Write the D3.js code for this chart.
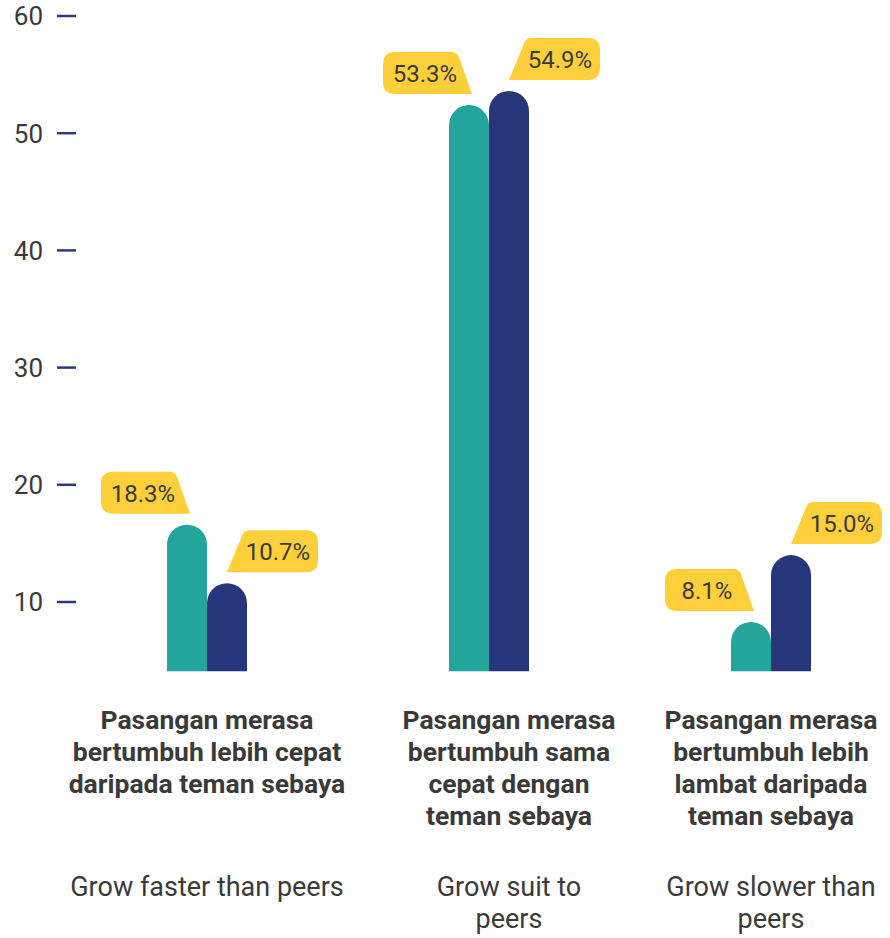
<!DOCTYPE html>
<html>
    <head>
        <script src="https://d3js.org/d3.v7.min.js"></script>
        <style>
            body { margin: 0; background: #fff; }
            text { font-family: Roboto, "Open Sans", sans-serif; fill: #3a3a3a; }
            .tick-label { font-size: 26px; text-anchor: end; }
            .pct { font-size: 24px; text-anchor: middle; }
            .cat { font-size: 26.5px; font-weight: 700; text-anchor: middle; }
            .eng { font-size: 27px; text-anchor: middle; }
        </style>
    </head>
    <body>
        <svg width="890" height="938"></svg>
        <script>
            // data
            var categories = ["faster", "same", "slower"];
            var series = ["a", "b"];
            var barValuesA = [16.6, 52.4, 8.3];   // bar tops as drawn (axis units)
            var barValuesB = [11.6, 53.6, 14.0];
            var labelsA = ["18.3%", "53.3%", "8.1%"];
            var labelsB = ["10.7%", "54.9%", "15.0%"];
            var baseValue = 4.1;                   // bars start here
            var tickValues = [10, 20, 30, 40, 50, 60];
            var catLabels = [
                ["Pasangan merasa", "bertumbuh lebih cepat", "daripada teman sebaya"],
                ["Pasangan merasa", "bertumbuh sama", "cepat dengan", "teman sebaya"],
                ["Pasangan merasa", "bertumbuh lebih", "lambat daripada", "teman sebaya"]
            ];
            var engLabels = [
                ["Grow faster than peers"],
                ["Grow suit to", "peers"],
                ["Grow slower than", "peers"]
            ];

            var colors = { a: "#23a59b", b: "#27357a" };
            var yellow = "#fdd03b";
            var labelShift = [0, 20, 0]; // middle caption sits a bit right of its bars

            var svg = d3.select("svg");

            var y = d3.scaleLinear().domain([10, 60]).range([602, 16]);
            var x0 = d3.scaleBand().domain(categories).range([66, 912]);
            var barW = 40;
            var x1 = d3.scaleBand().domain(series)
                .range([x0.bandwidth() / 2 - barW, x0.bandwidth() / 2 + barW]);

            // y axis: labels + short dashes
            var ax = svg.append("g");
            var tk = ax.selectAll("g").data(tickValues).enter().append("g")
                .attr("transform", function(d) { return "translate(0," + y(d) + ")"; });
            tk.append("line").attr("x1", 57).attr("x2", 76)
                .attr("stroke", "#2b3a7e").attr("stroke-width", 2.5);
            tk.append("text").attr("class", "tick-label")
                .attr("x", 43).attr("dy", "0.36em").text(function(d) { return d; });

            var rows = categories.map(function(c, i) {
                return [
                    { cat: c, s: "a", v: barValuesA[i], label: labelsA[i] },
                    { cat: c, s: "b", v: barValuesB[i], label: labelsB[i] }
                ];
            });

            function barPath(d) {
                var x = x0(d.cat) + x1(d.s), w = x1.bandwidth(), r = w / 2;
                var top = y(d.v), bot = y(baseValue);
                return "M" + x + "," + bot + "V" + (top + r) +
                    "A" + r + "," + r + " 0 0 1 " + (x + w) + "," + (top + r) +
                    "V" + bot + "Z";
            }

            // callout shape: rounded box with a slanted tail pointing down at the bar
            function calloutPath(d) {
                var w = x1.bandwidth();
                var cx = x0(d.cat) + x1(d.s) + w / 2;
                var by = y(d.v) - 11, ty = by - 42, r = 12;
                if (d.s === "a") {
                    var tx = cx + 3, left = tx - 89, tr = tx - 14;
                    return "M" + (left + r) + "," + ty + "H" + (tr - 6) +
                        "Q" + tr + "," + ty + " " + (tr + 2) + "," + (ty + 8) +
                        "L" + tx + "," + by + "H" + (left + r) +
                        "Q" + left + "," + by + " " + left + "," + (by - r) +
                        "V" + (ty + r) + "Q" + left + "," + ty + " " + (left + r) + "," + ty + "Z";
                } else {
                    var tx2 = cx, right = tx2 + 91, tl = tx2 + 16;
                    return "M" + (right - r) + "," + ty + "H" + (tl + 6) +
                        "Q" + tl + "," + ty + " " + (tl - 2) + "," + (ty + 8) +
                        "L" + tx2 + "," + by + "H" + (right - r) +
                        "Q" + right + "," + by + " " + right + "," + (by - r) +
                        "V" + (ty + r) + "Q" + right + "," + ty + " " + (right - r) + "," + ty + "Z";
                }
            }

            function calloutTextX(d) {
                var cx = x0(d.cat) + x1(d.s) + x1.bandwidth() / 2;
                return d.s === "a" ? cx + 3 - 47 : cx + 51;
            }

            var grp = svg.selectAll(".grp").data(rows).enter().append("g").attr("class", "grp");

            grp.selectAll(".bar").data(function(d) { return d; }).enter().append("path")
                .attr("class", "bar")
                .attr("d", barPath)
                .attr("fill", function(d) { return colors[d.s]; });

            grp.selectAll(".callout").data(function(d) { return d; }).enter().append("path")
                .attr("class", "callout")
                .attr("d", calloutPath)
                .attr("fill", yellow);

            grp.selectAll(".pct").data(function(d) { return d; }).enter().append("text")
                .attr("class", "pct")
                .attr("x", calloutTextX)
                .attr("y", function(d) { return y(d.v) - 11 - 12; })
                .text(function(d) { return d.label; });

            // category labels under the bars
            categories.forEach(function(c, i) {
                var cx = x0(c) + x0.bandwidth() / 2 + labelShift[i];
                var t = svg.append("text").attr("class", "cat").attr("x", cx).attr("y", 729);
                catLabels[i].forEach(function(line, j) {
                    t.append("tspan").attr("x", cx).attr("dy", j ? 32 : 0).text(line);
                });
                var e = svg.append("text").attr("class", "eng").attr("x", cx).attr("y", 896);
                engLabels[i].forEach(function(line, j) {
                    e.append("tspan").attr("x", cx).attr("dy", j ? 32 : 0).text(line);
                });
            });
        </script>
    </body>
</html>
